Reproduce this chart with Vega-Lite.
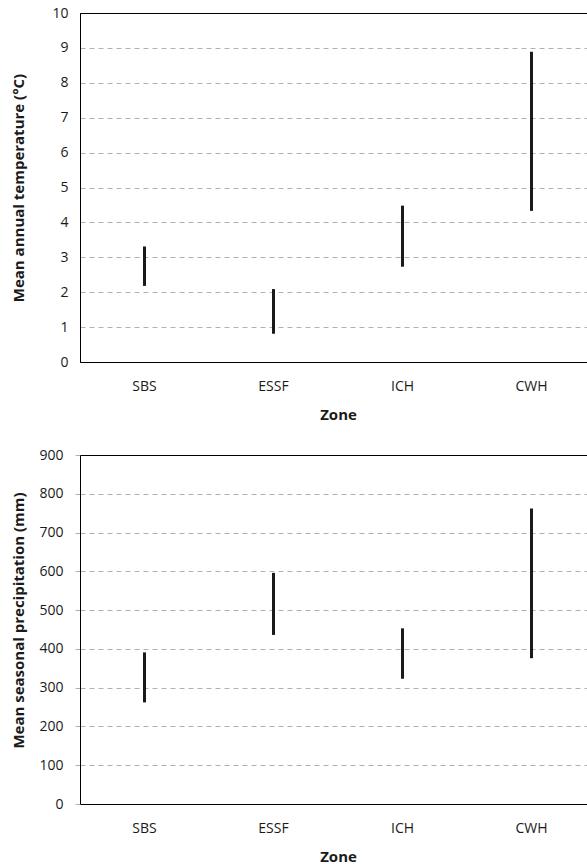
{
  "$schema": "https://vega.github.io/schema/vega-lite/v6.json",
  "padding": {"left": 10, "top": 5, "right": 0, "bottom": 0},
  "spacing": 24,
  "data": {"values": [
    {"zone": "SBS", "tmin": 2.18, "tmax": 3.31, "pmin": 262, "pmax": 391},
    {"zone": "ESSF", "tmin": 0.81, "tmax": 2.09, "pmin": 436, "pmax": 596},
    {"zone": "ICH", "tmin": 2.73, "tmax": 4.48, "pmin": 323, "pmax": 453},
    {"zone": "CWH", "tmin": 4.33, "tmax": 8.89, "pmin": 376, "pmax": 762}
  ]},
  "config": {
    "font": "Open Sans",
    "view": {"stroke": "#000000", "strokeWidth": 1},
    "axis": {
      "labelFont": "Open Sans", "labelFontSize": 14, "labelColor": "#1a1a1a",
      "titleFont": "Open Sans", "titleFontSize": 15, "titleFontWeight": "bold", "titleColor": "#1a1a1a",
      "ticks": false, "domainColor": "#000000", "domainWidth": 1
    },
    "axisX": {"grid": false, "labelAngle": 0, "labelPadding": 17, "titlePadding": 14, "domain": true},
    "axisY": {
      "grid": true,
      "gridColor": {"condition": {"test": "datum.index === 1", "value": "#000000"}, "value": "#b0b0b0"},
      "gridDash": {"condition": {"test": "datum.index === 1", "value": []}, "value": [5, 4]},
      "gridWidth": 1, "labelPadding": 12, "minExtent": 40, "maxExtent": 40, "titlePadding": 14
    }
  },
  "vconcat": [
    {
      "width": 516, "height": 349,
      "mark": {"type": "rule", "strokeWidth": 3, "color": "#1a1a1a"},
      "encoding": {
        "x": {"field": "zone", "type": "nominal", "sort": ["SBS", "ESSF", "ICH", "CWH"], "title": "Zone", "scale": {"paddingInner": 0, "paddingOuter": 0}},
        "y": {"field": "tmin", "type": "quantitative", "title": "Mean annual temperature (°C)", "scale": {"domain": [0, 10]}, "axis": {"values": [0,1,2,3,4,5,6,7,8,9,10]}},
        "y2": {"field": "tmax"}
      }
    },
    {
      "width": 516, "height": 349,
      "mark": {"type": "rule", "strokeWidth": 3, "color": "#1a1a1a"},
      "encoding": {
        "x": {"field": "zone", "type": "nominal", "sort": ["SBS", "ESSF", "ICH", "CWH"], "title": "Zone", "scale": {"paddingInner": 0, "paddingOuter": 0}},
        "y": {"field": "pmin", "type": "quantitative", "title": "Mean seasonal precipitation (mm)", "scale": {"domain": [0, 900]}, "axis": {"values": [0,100,200,300,400,500,600,700,800,900], "ticks": true, "tickColor": "#b0b0b0", "tickSize": 5, "tickWidth": 1, "titleY": 165}},
        "y2": {"field": "pmax"}
      }
    }
  ]
}
